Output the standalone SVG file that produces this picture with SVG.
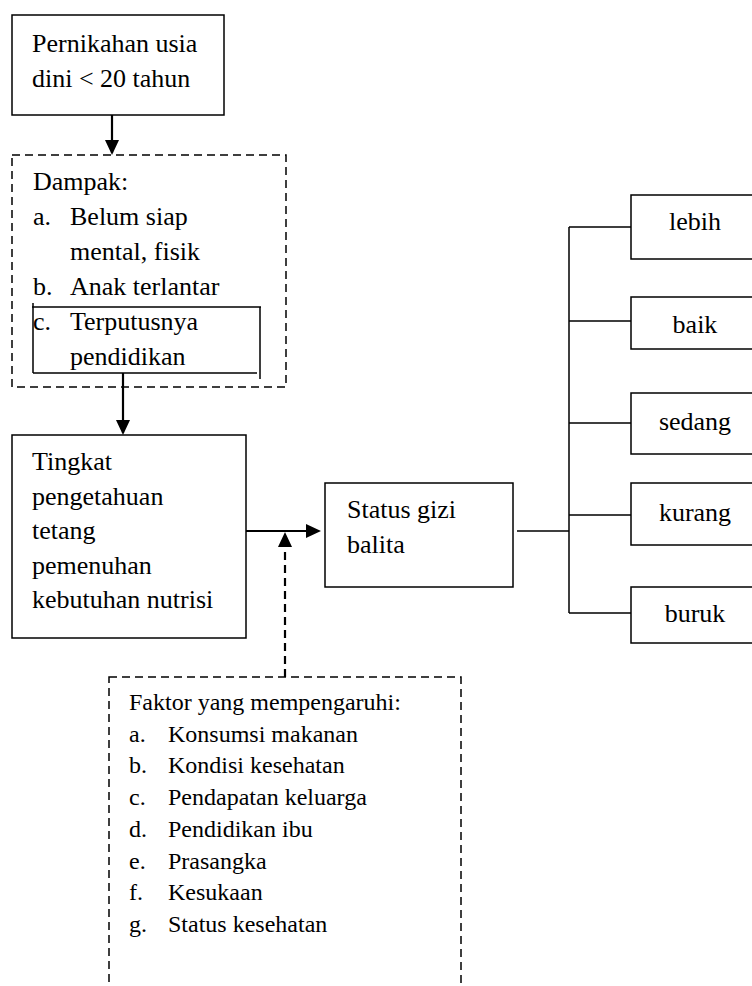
<svg xmlns="http://www.w3.org/2000/svg" width="752" height="986" viewBox="0 0 752 986">
<style>
text{font-family:"Liberation Serif","Times New Roman",serif;font-size:26px;fill:#000}
.sm{font-size:24px}
.box{fill:#fff;stroke:#000;stroke-width:1.5}
.dbox{fill:none;stroke:#000;stroke-width:1.5;stroke-dasharray:8 5}
.ln{fill:none;stroke:#000;stroke-width:1.5}
.arr{fill:none;stroke:#000;stroke-width:2.2}
.darr{fill:none;stroke:#000;stroke-width:2.2;stroke-dasharray:8 5}
.mid{text-anchor:middle}
</style>
<defs>
<marker id="ah" viewBox="0 0 15 14" refX="13" refY="7" markerWidth="15" markerHeight="14" markerUnits="userSpaceOnUse" orient="auto">
<path d="M0,0 L15,7 L0,14 z" fill="#000"/>
</marker>
</defs>
<rect width="752" height="986" fill="#fff"/>

<g id="pernikahan">
<rect class="box" x="12" y="15" width="212" height="100"/>
<text x="32" y="52">Pernikahan usia</text>
<text x="32" y="87">dini &lt; 20 tahun</text>
</g>

<g id="dampak">
<rect class="dbox" x="12" y="155" width="274" height="232"/>
<path class="ln" d="M32,307 H261 M33,303 V373 M260,307 V379 M33,373 H257"/>
<text x="33" y="190">Dampak:</text>
<text x="33" y="225">a.</text><text x="70" y="225">Belum siap</text>
<text x="70" y="260">mental, fisik</text>
<text x="33" y="295">b.</text><text x="70" y="295">Anak terlantar</text>
<text x="33" y="330">c.</text><text x="70" y="330">Terputusnya</text>
<text x="70" y="365">pendidikan</text>
</g>

<g id="tingkat">
<rect class="box" x="12" y="435" width="234" height="203"/>
<text x="32" y="470">Tingkat</text>
<text x="32" y="504.5">pengetahuan</text>
<text x="32" y="539">tetang</text>
<text x="32" y="573.5">pemenuhan</text>
<text x="32" y="608">kebutuhan nutrisi</text>
</g>

<g id="status">
<rect class="box" x="325" y="483" width="188" height="104"/>
<text x="347" y="518">Status gizi</text>
<text x="347" y="553">balita</text>
</g>

<g id="lebih">
<rect class="box" x="631" y="195" width="200" height="64"/>
<text class="mid" x="695" y="230">lebih</text>
</g>
<g id="baik">
<rect class="box" x="631" y="297" width="200" height="52"/>
<text class="mid" x="695" y="333">baik</text>
</g>
<g id="sedang">
<rect class="box" x="631" y="393" width="200" height="61"/>
<text class="mid" x="695" y="430">sedang</text>
</g>
<g id="kurang">
<rect class="box" x="631" y="483" width="200" height="62"/>
<text class="mid" x="695" y="521">kurang</text>
</g>
<g id="buruk">
<rect class="box" x="631" y="587" width="200" height="56"/>
<text class="mid" x="695" y="622">buruk</text>
</g>

<g id="faktor">
<rect class="dbox" x="109" y="677" width="352" height="340"/>
<text class="sm" x="129" y="710">Faktor yang mempengaruhi:</text>
<text class="sm" x="129" y="741.7">a.</text><text class="sm" x="168" y="741.7">Konsumsi makanan</text>
<text class="sm" x="129" y="773.4">b.</text><text class="sm" x="168" y="773.4">Kondisi kesehatan</text>
<text class="sm" x="129" y="805">c.</text><text class="sm" x="168" y="805">Pendapatan keluarga</text>
<text class="sm" x="129" y="836.8">d.</text><text class="sm" x="168" y="836.8">Pendidikan ibu</text>
<text class="sm" x="129" y="868.5">e.</text><text class="sm" x="168" y="868.5">Prasangka</text>
<text class="sm" x="129" y="900">f.</text><text class="sm" x="168" y="900">Kesukaan</text>
<text class="sm" x="129" y="932">g.</text><text class="sm" x="168" y="932">Status kesehatan</text>
</g>

<g id="connectors">
<line class="arr" x1="112" y1="115" x2="112" y2="153" marker-end="url(#ah)"/>
<line class="arr" x1="123" y1="373" x2="123" y2="433" marker-end="url(#ah)"/>
<line class="arr" x1="246" y1="531" x2="319" y2="531" marker-end="url(#ah)"/>
<line class="darr" x1="285" y1="677" x2="285" y2="534" marker-end="url(#ah)"/>
<path class="ln" d="M517,531 H569 M569,227 V613 M569,227 H631 M569,321 H631 M569,423 H631 M569,515 H631 M569,613 H631"/>
</g>
</svg>
